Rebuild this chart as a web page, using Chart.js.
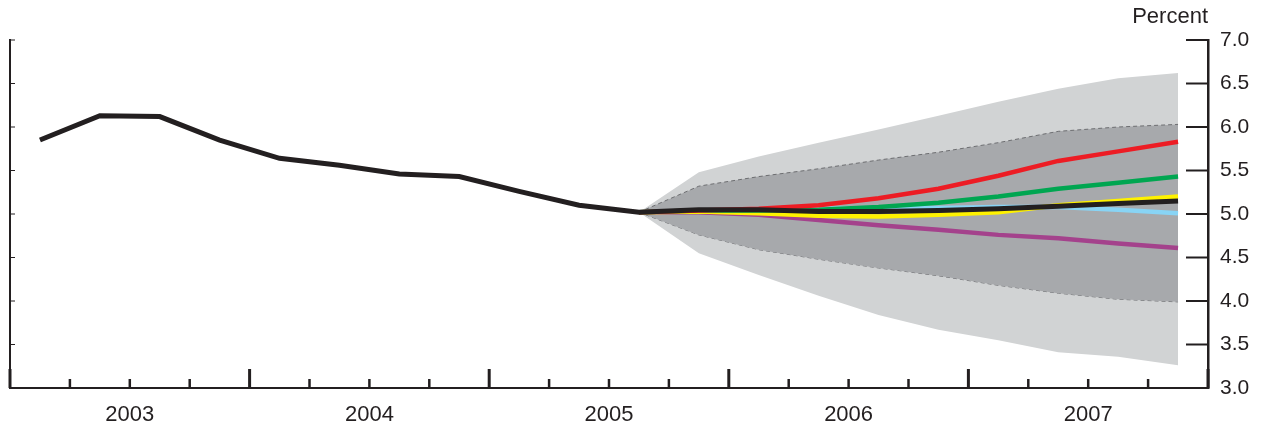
<!DOCTYPE html>
<html>
<head>
<meta charset="utf-8">
<script src="https://cdn.jsdelivr.net/npm/chart.js@4/dist/chart.umd.min.js"></script>
<style>
html,body{margin:0;padding:0;background:#fff;}
#wrap{width:1265px;height:430px;}
</style>
</head>
<body>
<div id="wrap"><canvas id="c" width="1265" height="430"></canvas></div>
<script>
// Quarters 2003Q1 .. 2007Q4
const years = ['2003', '2004', '2005', '2006', '2007'];
const yTickValues = [3.0, 3.5, 4.0, 4.5, 5.0, 5.5, 6.0, 6.5, 7.0];
const unitLabel = 'Percent';

// History (2003Q1 .. 2005Q3)
const history = [5.85, 6.13, 6.12, 5.85, 5.64, 5.56, 5.46, 5.43, 5.26, 5.10, 5.02];
// Forecast quarters (2005Q3 .. 2007Q4)
const baseline  = [5.02, 5.05, 5.05, 5.03, 5.03, 5.04, 5.06, 5.09, 5.12, 5.15];
const redPath   = [5.02, 5.04, 5.06, 5.10, 5.18, 5.29, 5.44, 5.61, 5.72, 5.83];
const greenPath = [5.02, 5.04, 5.04, 5.05, 5.08, 5.13, 5.20, 5.29, 5.36, 5.43];
const yellowPath= [5.02, 5.03, 5.01, 4.98, 4.97, 4.99, 5.02, 5.10, 5.15, 5.20];
const bluePath  = [5.02, 5.04, 5.05, 5.06, 5.07, 5.07, 5.08, 5.08, 5.05, 5.01];
const purplePath= [5.02, 5.02, 4.99, 4.93, 4.87, 4.82, 4.76, 4.72, 4.66, 4.61];
const outerUpper= [5.02, 5.48, 5.66, 5.82, 5.97, 6.13, 6.29, 6.44, 6.56, 6.62];
const outerLower= [5.02, 4.55, 4.30, 4.06, 3.84, 3.67, 3.55, 3.41, 3.36, 3.26];
const innerUpper= [5.02, 5.32, 5.43, 5.52, 5.62, 5.71, 5.82, 5.95, 6.00, 6.03];
const innerLower= [5.02, 4.76, 4.59, 4.48, 4.38, 4.29, 4.18, 4.09, 4.02, 3.99];

const forecastStart = history.length - 1; // quarter index where forecast begins
const pts = (arr, start) => arr.map((v, i) => ({ x: start + i + 0.5, y: v }));

const INK = '#231f20';
const FONT = '"Liberation Sans", Arial, Helvetica, sans-serif';

const datasets = [
  { data: pts(outerUpper, forecastStart), fill: '+1', backgroundColor: '#d1d3d4', borderWidth: 0, pointRadius: 0, order: 20 },
  { data: pts(outerLower, forecastStart), fill: false, borderWidth: 0, pointRadius: 0, order: 21 },
  { data: pts(innerUpper, forecastStart), fill: '+1', backgroundColor: '#a7a9ac', borderColor: '#6d6e71', borderWidth: 1, borderDash: [4, 3], pointRadius: 0, order: 10 },
  { data: pts(innerLower, forecastStart), fill: false, borderColor: '#6d6e71', borderWidth: 1, borderDash: [4, 3], pointRadius: 0, order: 11 },
  { data: pts(purplePath, forecastStart), borderColor: '#a4428c', borderWidth: 4.5, pointRadius: 0, fill: false, order: 6 },
  { data: pts(bluePath, forecastStart), borderColor: '#88d4f5', borderWidth: 4.5, pointRadius: 0, fill: false, order: 5 },
  { data: pts(yellowPath, forecastStart), borderColor: '#fff200', borderWidth: 4.5, pointRadius: 0, fill: false, order: 4 },
  { data: pts(greenPath, forecastStart), borderColor: '#00a651', borderWidth: 4.5, pointRadius: 0, fill: false, order: 3 },
  { data: pts(redPath, forecastStart), borderColor: '#ed1c24', borderWidth: 4.5, pointRadius: 0, fill: false, order: 2 },
  { data: pts(history.concat(baseline.slice(1)), 0), borderColor: INK, borderWidth: 5, pointRadius: 0, fill: false, order: 0, borderJoinStyle: 'miter' }
];

const tickPlugin = {
  id: 'tickMarks',
  afterDraw(chart) {
    const ctx = chart.ctx;
    const xs = chart.scales.x, yr = chart.scales.y, yl = chart.scales.yL;
    const ca = chart.chartArea;
    ctx.save();
    ctx.strokeStyle = INK;
    // x tick marks pointing up, quarterly, major at year boundaries
    const nQ = years.length * 4;
    for (let q = 0; q <= nQ; q++) {
      const px = xs.getPixelForValue(q);
      const major = q % 4 === 0;
      ctx.lineWidth = major ? 3 : 2.5;
      ctx.beginPath();
      ctx.moveTo(px, ca.bottom);
      ctx.lineTo(px, ca.bottom - (major ? 19 : 9));
      ctx.stroke();
    }
    // right axis ticks pointing left, left axis short ticks pointing right
    yTickValues.forEach(v => {
      const py = yr.getPixelForValue(v);
      ctx.lineWidth = 2;
      ctx.beginPath();
      ctx.moveTo(ca.right, py);
      ctx.lineTo(ca.right - 22, py);
      ctx.stroke();
      const pyl = yl.getPixelForValue(v);
      ctx.lineWidth = 1;
      ctx.beginPath();
      ctx.moveTo(ca.left, pyl);
      ctx.lineTo(ca.left + 5, pyl);
      ctx.stroke();
    });
    // unit label
    ctx.fillStyle = INK;
    ctx.font = '22px ' + FONT;
    ctx.textAlign = 'right';
    ctx.textBaseline = 'middle';
    ctx.fillText(unitLabel, ca.right, 17);
    ctx.restore();
  }
};

new Chart(document.getElementById('c'), {
  type: 'line',
  data: { datasets },
  plugins: [tickPlugin],
  options: {
    responsive: false,
    animation: false,
    layout: { padding: { top: 40, left: 0, right: 0, bottom: 0 } },
    plugins: { legend: { display: false }, tooltip: { enabled: false } },
    elements: { line: { tension: 0, capBezierPoints: false } },
    scales: {
      x: {
        type: 'linear', min: 0, max: years.length * 4,
        afterBuildTicks: (s) => { s.ticks = years.map((y, i) => ({ value: i * 4 + 2 })); },
        afterFit: (s) => { s.height = 42; },
        grid: { display: false, drawTicks: false },
        border: { display: true, color: INK, width: 2 },
        ticks: {
          autoSkip: false, maxRotation: 0, padding: 14, color: INK,
          font: { family: FONT, size: 22 },
          callback: (v) => years[(v - 2) / 4]
        }
      },
      y: {
        position: 'right', min: 3, max: 7,
        afterBuildTicks: (s) => { s.ticks = yTickValues.map(v => ({ value: v })); },
        afterFit: (s) => { s.width = 57; },
        grid: { display: false, drawTicks: false },
        border: { display: true, color: INK, width: 2.5 },
        ticks: { padding: 12, color: INK, font: { family: FONT, size: 21 }, callback: (v) => v.toFixed(1) }
      },
      yL: {
        position: 'left', min: 3, max: 7,
        afterFit: (s) => { s.width = 10; },
        grid: { display: false, drawTicks: false },
        border: { display: true, color: INK, width: 2 },
        ticks: { display: false }
      }
    }
  }
});
</script>
</body>
</html>
